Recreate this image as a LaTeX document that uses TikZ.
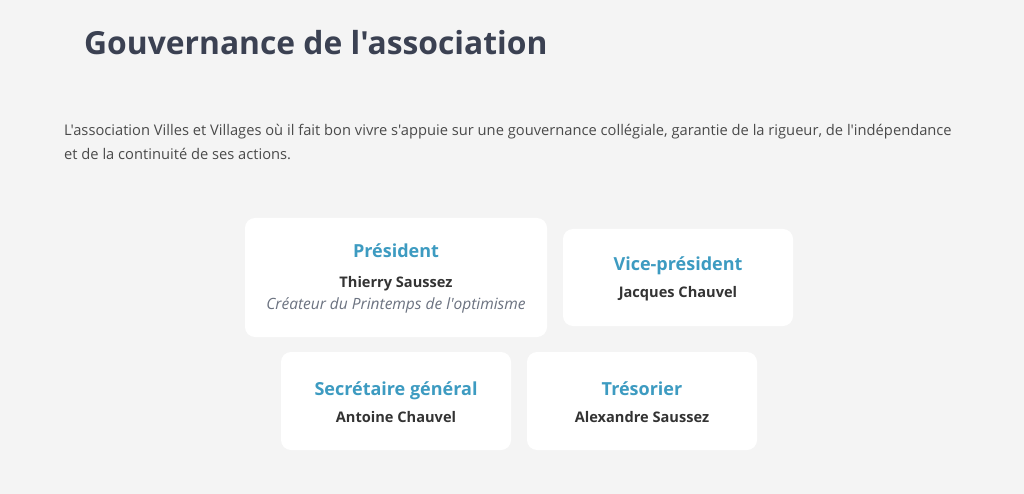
\documentclass[tikz,border=0pt]{standalone}
\usepackage{fontspec}
\newfontfamily\osans{Open Sans}
\definecolor{bg}{HTML}{F4F4F4}
\definecolor{titlec}{HTML}{3B4152}
\definecolor{parac}{HTML}{4A4A4A}
\definecolor{rolec}{HTML}{3D9BC1}
\definecolor{namec}{HTML}{333333}
\definecolor{subc}{HTML}{6B7280}
\begin{document}
\begin{tikzpicture}[x=1pt,y=-1pt,
  card/.style={fill=white, draw=none, rounded corners=10pt},
  role/.style={font=\osans\fontsize{18}{20}\selectfont\bfseries, text=rolec, anchor=base, inner sep=0},
  person/.style={font=\osans\fontsize{14.6}{16}\selectfont\bfseries, text=namec, anchor=base, inner sep=0},
  sub/.style={font=\osans\fontsize{15.5}{16}\selectfont\itshape, text=subc, anchor=base, inner sep=0}]
\fill[bg] (0,0) rectangle (1024,494);
\useasboundingbox (0,0) rectangle (1024,494);
\node[anchor=base west, inner sep=0, text=titlec, font=\osans\fontsize{31.8}{40}\selectfont\bfseries] (title) at (84,55) {Gouvernance de l'association};
\node[anchor=base west, inner sep=0, text=parac, font=\osans\fontsize{14.7}{18}\selectfont] (p1) at (64,136) {L'association Villes et Villages où il fait bon vivre s'appuie sur une gouvernance collégiale, garantie de la rigueur, de l'indépendance};
\node[anchor=base west, inner sep=0, text=parac, font=\osans\fontsize{14.7}{18}\selectfont] (p2) at (64,160) {et de la continuité de ses actions.};
% cards
\path[card] (245,218) rectangle (547,337);
\path[card] (563,229) rectangle (793,326);
\path[card] (281,352) rectangle (511,450);
\path[card] (527,352) rectangle (757,450);
\node[role] (r1) at (396,258) {Président};
\node[person] (n1) at (396,287) {Thierry Saussez};
\node[sub] (s1) at (396,309) {Créateur du Printemps de l'optimisme};
\node[role] (r2) at (678,270) {Vice-président};
\node[person] (n2) at (678,297) {Jacques Chauvel};
\node[role] (r3) at (396,395) {Secrétaire général};
\node[person] (n3) at (396,422) {Antoine Chauvel};
\node[role] (r4) at (642,395) {Trésorier};
\node[person] (n4) at (642,422) {Alexandre Saussez};
\end{tikzpicture}
\end{document}
